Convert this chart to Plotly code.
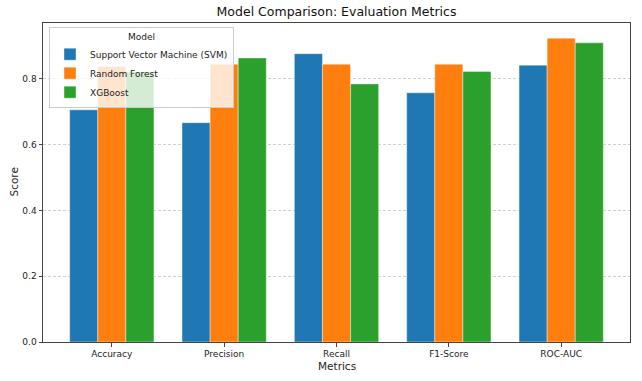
import plotly.graph_objects as go

metrics = ["Accuracy", "Precision", "Recall", "F1-Score", "ROC-AUC"]
svm = [0.706, 0.667, 0.877, 0.758, 0.842]
rf = [0.838, 0.845, 0.845, 0.845, 0.924]
xgb = [0.822, 0.864, 0.785, 0.823, 0.910]
series_names = ["Support Vector Machine (SVM)", "Random Forest", "XGBoost"]
colors = ["#1f77b4", "#ff7f0e", "#2ca02c"]

fig = go.Figure()
for name, vals, c in zip(series_names, [svm, rf, xgb], colors):
    fig.add_trace(go.Bar(
        x=metrics, y=vals, name=name,
        marker=dict(color=c, line=dict(color="rgba(255,255,255,0.5)", width=0.8)),
    ))

font = "DejaVu Sans, sans-serif"
W, H = 642, 381
L, R, T, B = 43, 12, 23, 39
PW, PH = W - L - R, H - T - B
fig.update_layout(
    width=W, height=H,
    margin=dict(l=L, r=R, t=T, b=B, autoexpand=False),
    paper_bgcolor="white", plot_bgcolor="white",
    font=dict(family=font, size=9, color="#222"),
    barmode="group", bargap=0.25, bargroupgap=0,
    title=dict(text="Model Comparison: Evaluation Metrics", x=0.5, xanchor="center",
               xref="paper", y=1 - 12 / H, yanchor="middle",
               font=dict(size=12.5, color="#111")),
    legend=dict(
        x=(49 - 43) / PW, y=1 - (27 - 23) / PH, xanchor="left", yanchor="top",
        bgcolor="rgba(255,255,255,0.8)", bordercolor="#cccccc", borderwidth=1,
        font=dict(size=9, color="#222"),
        title=dict(text="Model", side="top center", font=dict(size=9)),
        tracegroupgap=0, itemwidth=30,
    ),
    showlegend=True,
    annotations=[
        dict(text="Metrics", xref="paper", yref="paper", x=0.5, y=-(366 - 342) / PH,
             xanchor="center", yanchor="middle", showarrow=False, font=dict(size=10.5, color="#222")),
        dict(text="Score", xref="paper", yref="paper", x=-(43 - 13) / PW, y=0.5,
             xanchor="center", yanchor="middle", textangle=-90, showarrow=False,
             font=dict(size=10.5, color="#222")),
    ],
)
fig.update_xaxes(
    automargin=False,
    range=[-0.6125, 4.6125],
    showline=True, linecolor="#444", linewidth=1, mirror=True,
    ticks="outside", ticklen=3.5, tickcolor="#444", showgrid=False,
)
fig.update_yaxes(
    automargin=False,
    range=[0, 0.9702], tickvals=[0, 0.2, 0.4, 0.6, 0.8], tickformat=".1f",
    showline=True, linecolor="#444", linewidth=1, mirror=True,
    ticks="outside", ticklen=3.5, tickcolor="#444",
    showgrid=True, gridcolor="rgba(176,176,176,0.6)", griddash="3px,2px", gridwidth=0.7,
    zeroline=False,
)
fig.write_html(
    "out.html",
    config={"displayModeBar": False},
    post_script="document.body.style.margin='0';document.body.style.overflow='hidden';",
)
